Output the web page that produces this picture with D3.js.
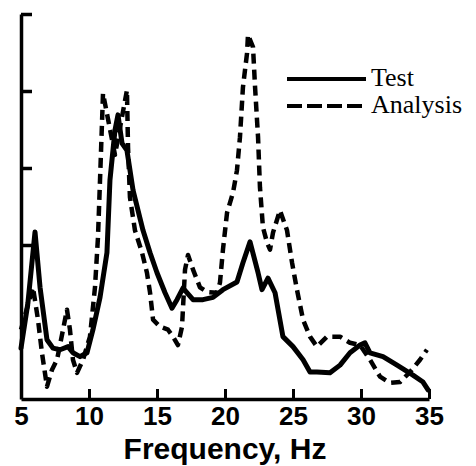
<!DOCTYPE html>
<html>
<head>
<meta charset="utf-8">
<script src="https://cdnjs.cloudflare.com/ajax/libs/d3/7.8.5/d3.min.js"></script>
<style>
  body { margin: 0; background: #fff; }
  svg { display: block; }
</style>
</head>
<body>
<div id="chart"></div>
<script>
// frequency response, test vs analysis
var testFreq = [5.0, 5.51, 6.03, 6.40, 6.91, 7.35, 7.87, 8.46, 8.82, 9.34, 9.85, 10.29, 10.81, 11.32, 11.54, 11.91, 12.13,
    12.43, 12.79, 13.24, 13.97, 14.49, 15.0, 15.59, 16.10, 16.47, 16.91, 17.65, 18.38, 19.12, 19.85, 20.88, 21.32,
    21.84, 22.43, 22.72, 23.16, 23.68, 24.26, 25.0, 25.74, 26.25, 26.76, 27.72, 28.46, 29.19, 29.93, 30.29, 30.66,
    31.62, 32.65, 33.82, 34.56, 34.93];
var testAmp = [0.66, 1.25, 2.17, 1.45, 0.77, 0.66, 0.64, 0.68, 0.60, 0.55, 0.60, 0.90, 1.32, 1.90, 2.84, 3.49, 3.69,
    3.32, 3.23, 2.71, 2.19, 1.90, 1.64, 1.38, 1.18, 1.29, 1.44, 1.29, 1.29, 1.32, 1.42, 1.52, 1.77,
    2.04, 1.64, 1.42, 1.57, 1.38, 0.81, 0.68, 0.51, 0.35, 0.35, 0.34, 0.44, 0.60, 0.70, 0.73, 0.60,
    0.55, 0.44, 0.31, 0.22, 0.12];

var analysisFreq = [5.0, 5.51, 5.88, 6.25, 6.54, 6.91, 7.28, 7.65, 8.09, 8.38, 8.60, 8.82, 9.12, 9.56, 10.07, 10.44, 10.66,
    10.81, 11.03, 11.91, 12.79, 12.87, 13.01, 13.38, 13.90, 14.26, 14.49, 14.71, 15.22, 15.81, 16.18, 16.54, 16.84,
    17.06, 17.28, 17.65, 18.16, 18.68, 19.41, 19.63, 19.85, 20.15, 20.59, 20.88, 21.10, 21.32, 21.62, 21.69, 22.06,
    22.21, 22.43, 22.57, 22.79, 23.09, 23.31, 23.53, 24.04, 24.56, 24.93, 25.29, 25.74, 26.25, 26.76, 27.50, 28.46,
    29.19, 29.93, 30.66, 31.40, 32.13, 32.87, 33.60, 34.34, 34.85];
var analysisAmp = [0.90, 1.22, 1.45, 1.03, 0.60, 0.16, 0.38, 0.51, 0.90, 1.16, 0.90, 0.51, 0.34, 0.51, 0.81, 1.45, 2.10,
    2.84, 3.97, 3.17, 4.01, 3.27, 2.62, 2.19, 1.90, 1.64, 1.38, 1.03, 0.94, 0.90, 0.81, 0.70, 0.94,
    1.68, 1.87, 1.68, 1.45, 1.39, 1.38, 1.51, 1.94, 2.42, 2.68, 2.97, 3.40, 4.05, 4.49, 4.73, 4.57,
    4.05, 3.40, 2.75, 2.23, 2.03, 1.94, 2.16, 2.45, 2.19, 1.77, 1.42, 1.03, 0.81, 0.68, 0.81, 0.81,
    0.73, 0.70, 0.51, 0.29, 0.21, 0.22, 0.35, 0.51, 0.64];

var xTicks = [5, 10, 15, 20, 25, 30, 35];
var yTicks = [2, 3, 4, 5];
var seriesNames = ["Test", "Analysis"];

var width = 476, height = 466;

var svg = d3.select("#chart").append("svg")
    .attr("width", width)
    .attr("height", height);

var x = d3.scaleLinear().domain([5, 35]).range([21, 429]);
var y = d3.scaleLinear().domain([0, 5]).range([399, 14]);

var line = d3.line()
    .x(function(d) { return x(d[0]); })
    .y(function(d) { return y(d[1]); });

var testData = d3.zip(testFreq, testAmp);
var analysisData = d3.zip(analysisFreq, analysisAmp);

// curves
svg.append("path")
    .datum(analysisData)
    .attr("d", line)
    .attr("fill", "none")
    .attr("stroke", "#000")
    .attr("stroke-width", 4.5)
    .attr("stroke-dasharray", "10,6")
    .attr("stroke-linejoin", "round");

svg.append("path")
    .datum(testData)
    .attr("d", line)
    .attr("fill", "none")
    .attr("stroke", "#000")
    .attr("stroke-width", 5)
    .attr("stroke-linejoin", "round")
    .attr("stroke-linecap", "round");

// axes, ticks point inwards
var xAxis = svg.append("g")
    .attr("transform", "translate(0," + y(0) + ")")
    .call(d3.axisBottom(x).tickValues(xTicks).tickSizeInner(-10).tickSizeOuter(0).tickPadding(8));

xAxis.select(".domain").attr("stroke-width", 3.5);
xAxis.selectAll(".tick line").attr("stroke-width", 3);
xAxis.selectAll(".tick text")
    .attr("font-family", "'Liberation Sans', Arial, sans-serif")
    .attr("font-weight", "bold")
    .attr("font-size", "26px")
    .attr("fill", "#000");

var yAxis = svg.append("g")
    .attr("transform", "translate(" + x(5) + ",0)")
    .call(d3.axisLeft(y).tickValues(yTicks).tickSizeInner(-11).tickSizeOuter(0).tickFormat(""));

yAxis.select(".domain").attr("stroke-width", 3.5);
yAxis.selectAll(".tick line").attr("stroke-width", 3.5);

svg.append("text")
    .attr("x", 225)
    .attr("y", 459)
    .attr("text-anchor", "middle")
    .attr("font-family", "'Liberation Sans', Arial, sans-serif")
    .attr("font-weight", "bold")
    .attr("font-size", "30px")
    .text("Frequency, Hz");

// legend
var legend = svg.append("g");
var dashes = [null, "15,5"];
seriesNames.forEach(function(name, i) {
    var ly = 79 + i * 27;
    legend.append("line")
        .attr("x1", 287)
        .attr("x2", 366)
        .attr("y1", ly)
        .attr("y2", ly)
        .attr("stroke", "#000")
        .attr("stroke-width", 4)
        .attr("stroke-dasharray", dashes[i]);
    legend.append("text")
        .attr("x", 371)
        .attr("y", ly + 7)
        .attr("font-family", "'Liberation Serif', 'Times New Roman', serif")
        .attr("font-size", "26px")
        .text(name);
});
</script>
</body>
</html>
